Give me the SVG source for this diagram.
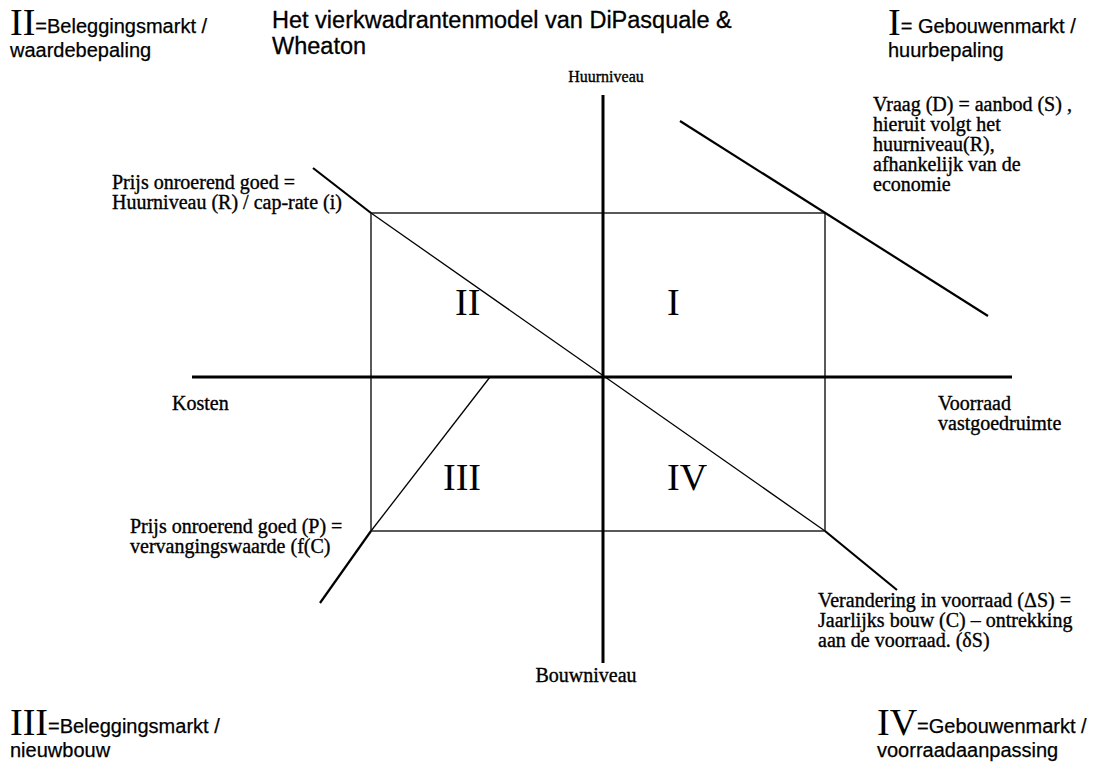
<svg xmlns="http://www.w3.org/2000/svg" width="1095" height="763" viewBox="0 0 1095 763">
  <style>
    .lbl { font-family: "Liberation Serif", "Times New Roman", serif; font-size: 20px; fill: #000; stroke: #000; stroke-width: 0.35; }
    .num { font-family: "Liberation Serif", "Times New Roman", serif; font-size: 38px; fill: #000; }
    .sans { font-family: "Liberation Sans", Arial, sans-serif; font-size: 20px; fill: #000; stroke: #000; stroke-width: 0.25; }
    .title { font-family: "Liberation Sans", Arial, sans-serif; font-size: 23.5px; fill: #000; stroke: #000; stroke-width: 0.3; }
    .axis { stroke: #000; stroke-width: 3; fill: none; }
    .thin { stroke: #000; stroke-width: 1.3; fill: none; }
    .curve { stroke: #000; stroke-width: 2.2; fill: none; }
  </style>
  <rect width="1095" height="763" fill="#fff"/>

  <!-- title -->
  <g id="title">
    <text class="title" x="272" y="28">Het vierkwadrantenmodel van DiPasquale &amp;</text>
    <text class="title" x="272" y="54">Wheaton</text>
  </g>

  <!-- quadrant legends in the corners -->
  <g id="legend-II">
    <text x="10" y="35"><tspan class="num">II</tspan><tspan class="sans" dy="-2">=Beleggingsmarkt /</tspan></text>
    <text class="sans" x="10" y="57">waardebepaling</text>
  </g>
  <g id="legend-I">
    <text x="888" y="35"><tspan class="num">I</tspan><tspan class="sans" dy="-2">= Gebouwenmarkt /</tspan></text>
    <text class="sans" x="888" y="57">huurbepaling</text>
  </g>
  <g id="legend-III">
    <text x="10" y="735"><tspan class="num">III</tspan><tspan class="sans" dy="-2">=Beleggingsmarkt /</tspan></text>
    <text class="sans" x="10" y="757">nieuwbouw</text>
  </g>
  <g id="legend-IV">
    <text x="877" y="735"><tspan class="num">IV</tspan><tspan class="sans" dy="-2">=Gebouwenmarkt /</tspan></text>
    <text class="sans" x="877" y="757">voorraadaanpassing</text>
  </g>

  <!-- axes, rectangle and the four market curves -->
  <g id="connectors">
    <line class="axis" x1="603" y1="95" x2="603" y2="663"/>
    <line class="axis" x1="192" y1="377" x2="1012" y2="377"/>
    <rect class="thin" x="371" y="213" width="454" height="318"/>
    <!-- quadrant II / IV diagonal -->
    <line class="thin" x1="371" y1="213" x2="825" y2="531"/>
    <line class="curve" x1="313" y1="168" x2="371" y2="213"/>
    <line class="curve" x1="825" y1="531" x2="897" y2="590"/>
    <!-- quadrant III line -->
    <line class="thin" x1="490" y1="377" x2="371" y2="531"/>
    <line class="curve" x1="371" y1="531" x2="320" y2="603"/>
    <!-- quadrant I demand line -->
    <line class="curve" x1="680" y1="121" x2="988" y2="316"/>
  </g>

  <!-- axis labels -->
  <g id="axis-huurniveau"><text class="lbl" x="606" y="82" text-anchor="middle" style="font-size:16px">Huurniveau</text></g>
  <g id="axis-bouwniveau"><text class="lbl" x="586" y="682" text-anchor="middle">Bouwniveau</text></g>
  <g id="axis-kosten"><text class="lbl" x="172" y="410">Kosten</text></g>
  <g id="axis-voorraad">
    <text class="lbl" x="938" y="410">Voorraad</text>
    <text class="lbl" x="938" y="430">vastgoedruimte</text>
  </g>

  <!-- quadrant numerals -->
  <g id="quadrant-II"><text class="num" x="455" y="315">II</text></g>
  <g id="quadrant-I"><text class="num" x="667" y="315">I</text></g>
  <g id="quadrant-III"><text class="num" x="443" y="490">III</text></g>
  <g id="quadrant-IV"><text class="num" x="667" y="490">IV</text></g>

  <!-- curve annotations -->
  <g id="note-I">
    <text class="lbl" x="873" y="111">Vraag (D) = aanbod (S) ,</text>
    <text class="lbl" x="873" y="131">hieruit volgt het</text>
    <text class="lbl" x="873" y="151">huurniveau(R),</text>
    <text class="lbl" x="873" y="171">afhankelijk van de</text>
    <text class="lbl" x="873" y="191">economie</text>
  </g>
  <g id="note-II">
    <text class="lbl" x="112" y="189">Prijs onroerend goed =</text>
    <text class="lbl" x="112" y="209">Huurniveau (R) / cap-rate (i)</text>
  </g>
  <g id="note-III">
    <text class="lbl" x="130" y="533">Prijs onroerend goed (P) =</text>
    <text class="lbl" x="130" y="553">vervangingswaarde (f(C)</text>
  </g>
  <g id="note-IV">
    <text class="lbl" x="818" y="607">Verandering in voorraad (ΔS) =</text>
    <text class="lbl" x="818" y="627">Jaarlijks bouw (C) – ontrekking</text>
    <text class="lbl" x="818" y="647">aan de voorraad. (δS)</text>
  </g>
</svg>
